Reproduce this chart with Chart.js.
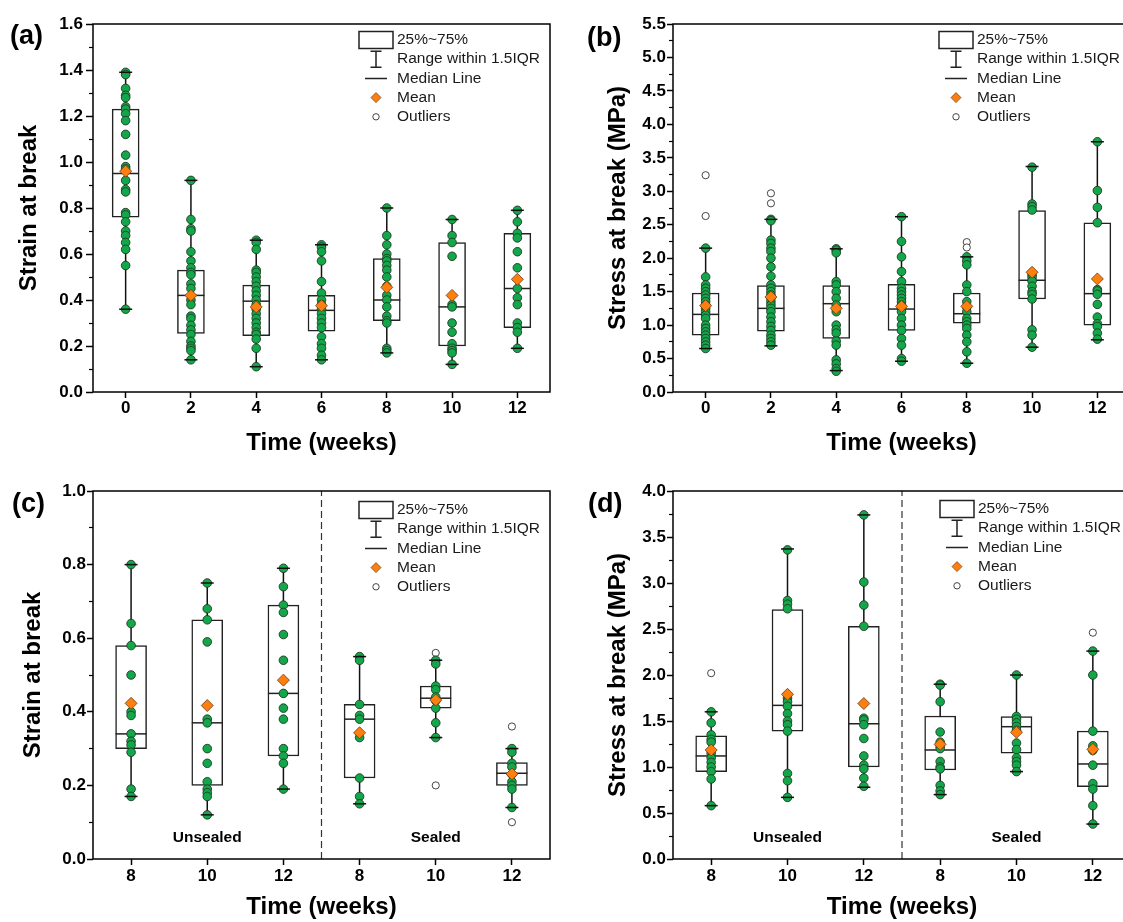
<!DOCTYPE html>
<html>
<head>
<meta charset="utf-8">
<script src="https://cdn.jsdelivr.net/npm/chart.js@4.4.1/dist/chart.umd.min.js"></script>
<style>
  body { margin: 0; width: 1123px; height: 922px; overflow: hidden; background: #fff; position: relative; }
  canvas { position: absolute; }
</style>
</head>
<body>
<canvas id="chartA" width="560" height="461" style="left:0;top:0"></canvas>
<canvas id="chartB" width="580" height="461" style="left:560px;top:0"></canvas>
<canvas id="chartC" width="560" height="461" style="left:0;top:461px"></canvas>
<canvas id="chartD" width="580" height="461" style="left:560px;top:461px"></canvas>
<script>
// ---- (a) strain at break, all weeks
const weeks = [0, 2, 4, 6, 8, 10, 12];
const strainLow = [0.36, 0.14, 0.11, 0.14, 0.17, 0.12, 0.19];
const strainQ1 = [0.76, 0.255, 0.245, 0.265, 0.31, 0.20, 0.28];
const strainMedian = [0.95, 0.42, 0.395, 0.355, 0.40, 0.37, 0.45];
const strainQ3 = [1.23, 0.53, 0.465, 0.42, 0.58, 0.65, 0.69];
const strainHigh = [1.39, 0.92, 0.66, 0.64, 0.80, 0.75, 0.79];
const strainMean = [0.96, 0.42, 0.37, 0.375, 0.455, 0.42, 0.49];
const strainPoints = [
  [1.39, 1.38, 1.32, 1.29, 1.28, 1.24, 1.23, 1.21, 1.18, 1.12, 1.03, 0.98, 0.97, 0.92, 0.88, 0.87, 0.78, 0.77, 0.74, 0.70, 0.68, 0.65, 0.62, 0.55, 0.36],
  [0.92, 0.75, 0.71, 0.70, 0.61, 0.57, 0.54, 0.52, 0.51, 0.47, 0.45, 0.40, 0.38, 0.33, 0.32, 0.29, 0.27, 0.25, 0.22, 0.20, 0.19, 0.18, 0.14],
  [0.66, 0.65, 0.62, 0.53, 0.52, 0.50, 0.48, 0.46, 0.44, 0.42, 0.40, 0.38, 0.36, 0.34, 0.32, 0.30, 0.28, 0.26, 0.25, 0.23, 0.19, 0.11],
  [0.64, 0.63, 0.61, 0.57, 0.48, 0.43, 0.40, 0.38, 0.36, 0.34, 0.32, 0.30, 0.28, 0.24, 0.21, 0.19, 0.16, 0.14],
  [0.80, 0.68, 0.64, 0.60, 0.58, 0.57, 0.55, 0.53, 0.50, 0.46, 0.42, 0.40, 0.37, 0.33, 0.31, 0.30, 0.19, 0.18, 0.17],
  [0.75, 0.68, 0.65, 0.59, 0.38, 0.37, 0.30, 0.26, 0.21, 0.19, 0.18, 0.17, 0.12],
  [0.79, 0.74, 0.69, 0.67, 0.61, 0.54, 0.45, 0.41, 0.38, 0.30, 0.28, 0.26, 0.19]
];
const strainOutliers = [[], [], [], [], [], [], []];
const strainTicks = [0, 0.2, 0.4, 0.6, 0.8, 1.0, 1.2, 1.4, 1.6];

// ---- (b) stress at break, all weeks
const stressLow = [0.65, 0.69, 0.32, 0.46, 0.43, 0.67, 0.78];
const stressQ1 = [0.85, 0.91, 0.80, 0.92, 1.03, 1.39, 1.00];
const stressMedian = [1.16, 1.25, 1.32, 1.24, 1.17, 1.67, 1.47];
const stressQ3 = [1.48, 1.59, 1.59, 1.61, 1.48, 2.71, 2.53];
const stressHigh = [2.15, 2.58, 2.14, 2.62, 2.02, 3.37, 3.74];
const stressMean = [1.29, 1.42, 1.25, 1.28, 1.28, 1.79, 1.69];
const stressPoints = [
  [2.15, 1.72, 1.60, 1.55, 1.50, 1.45, 1.40, 1.35, 1.30, 1.25, 1.20, 1.15, 1.10, 1.00, 0.95, 0.90, 0.85, 0.80, 0.75, 0.70, 0.65],
  [2.58, 2.56, 2.27, 2.22, 2.15, 2.10, 2.00, 1.87, 1.73, 1.60, 1.55, 1.50, 1.45, 1.40, 1.35, 1.30, 1.25, 1.20, 1.12, 1.05, 0.98, 0.92, 0.85, 0.80, 0.75, 0.70],
  [2.14, 2.12, 2.08, 1.65, 1.60, 1.50, 1.40, 1.30, 1.20, 1.00, 0.93, 0.88, 0.76, 0.70, 0.48, 0.42, 0.35, 0.31],
  [2.62, 2.25, 2.02, 1.80, 1.65, 1.55, 1.50, 1.45, 1.40, 1.35, 1.30, 1.25, 1.20, 1.10, 1.00, 0.92, 0.80, 0.70, 0.50, 0.46],
  [2.02, 1.96, 1.90, 1.60, 1.50, 1.35, 1.27, 1.20, 1.10, 1.05, 1.00, 0.95, 0.85, 0.75, 0.60, 0.43],
  [3.36, 2.81, 2.77, 2.72, 1.75, 1.71, 1.66, 1.58, 1.50, 1.46, 1.39, 0.93, 0.85, 0.67],
  [3.74, 3.01, 2.76, 2.53, 1.53, 1.51, 1.46, 1.31, 1.12, 1.02, 0.98, 0.88, 0.79]
];
const stressOutliers = [[3.24, 2.63], [2.97, 2.82], [], [], [2.24, 2.16], [], []];
const stressTicks = [0, 0.5, 1.0, 1.5, 2.0, 2.5, 3.0, 3.5, 4.0, 4.5, 5.0, 5.5];

// ---- (c), (d) unsealed vs sealed, weeks 8/10/12
const groupPos = [0, 1, 2, 3, 4, 5];
const groupWeeks = ['8', '10', '12', '8', '10', '12'];
const sealStrainLow = [0.17, 0.12, 0.19, 0.15, 0.33, 0.14];
const sealStrainQ1 = [0.30, 0.20, 0.28, 0.22, 0.41, 0.20];
const sealStrainMedian = [0.34, 0.37, 0.45, 0.38, 0.437, 0.233];
const sealStrainQ3 = [0.58, 0.65, 0.69, 0.42, 0.47, 0.262];
const sealStrainHigh = [0.80, 0.75, 0.79, 0.55, 0.54, 0.30];
const sealStrainMean = [0.423, 0.417, 0.486, 0.343, 0.432, 0.231];
const sealStrainPoints = [
  [0.80, 0.64, 0.58, 0.50, 0.40, 0.39, 0.34, 0.32, 0.31, 0.29, 0.19, 0.17],
  [0.75, 0.68, 0.65, 0.59, 0.38, 0.37, 0.30, 0.26, 0.21, 0.19, 0.18, 0.17, 0.12],
  [0.79, 0.74, 0.69, 0.67, 0.61, 0.54, 0.45, 0.41, 0.38, 0.30, 0.28, 0.26, 0.19],
  [0.55, 0.54, 0.42, 0.39, 0.38, 0.33, 0.22, 0.17, 0.15],
  [0.54, 0.53, 0.47, 0.46, 0.44, 0.43, 0.41, 0.37, 0.33],
  [0.30, 0.29, 0.26, 0.25, 0.23, 0.21, 0.20, 0.19, 0.14]
];
const sealStrainOutliers = [[], [], [], [], [0.56, 0.20], [0.36, 0.10]];
const sealStrainTicks = [0, 0.2, 0.4, 0.6, 0.8, 1.0];

const sealStressLow = [0.58, 0.67, 0.78, 0.70, 0.95, 0.38];
const sealStressQ1 = [0.95, 1.39, 1.00, 0.967, 1.15, 0.786];
const sealStressMedian = [1.12, 1.67, 1.47, 1.185, 1.438, 1.033];
const sealStressQ3 = [1.34, 2.71, 2.53, 1.554, 1.547, 1.391];
const sealStressHigh = [1.60, 3.37, 3.74, 1.90, 2.00, 2.26];
const sealStressMean = [1.185, 1.79, 1.69, 1.246, 1.377, 1.192];
const sealStressPoints = [
  [1.60, 1.48, 1.35, 1.30, 1.27, 1.15, 1.10, 1.05, 1.00, 0.95, 0.87, 0.58],
  [3.36, 2.81, 2.77, 2.72, 1.75, 1.71, 1.66, 1.58, 1.50, 1.46, 1.39, 0.93, 0.85, 0.67],
  [3.74, 3.01, 2.76, 2.53, 1.53, 1.51, 1.46, 1.31, 1.12, 1.02, 0.98, 0.88, 0.79],
  [1.90, 1.89, 1.71, 1.38, 1.27, 1.23, 1.20, 1.06, 1.00, 0.98, 0.80, 0.74, 0.70],
  [2.00, 1.55, 1.52, 1.48, 1.44, 1.40, 1.26, 1.19, 1.10, 1.06, 1.02, 0.95],
  [2.26, 2.00, 1.39, 1.23, 1.18, 1.02, 0.82, 0.76, 0.58, 0.38]
];
const sealStressOutliers = [[2.02], [], [], [], [], [2.46]];
const sealStressTicks = [0, 0.5, 1.0, 1.5, 2.0, 2.5, 3.0, 3.5, 4.0];

const legendLabels = ['25%~75%', 'Range within 1.5IQR', 'Median Line', 'Mean', 'Outliers'];

const FONT = "'Liberation Sans', Arial, Helvetica, sans-serif";
Chart.defaults.font.family = FONT;
Chart.defaults.color = '#000';

// minor ticks halfway between the major ones
function minorOf(ticks) {
  const out = [];
  for (let i = 0; i < ticks.length - 1; i++) out.push((ticks[i] + ticks[i + 1]) / 2);
  return out;
}

function boxDatasets(s) {
  const whisk = [];
  s.x.forEach((x, i) => { whisk.push({ x, y: s.low[i] }, { x, y: s.high[i] }, { x, y: null }); });
  const caps = [];
  s.x.forEach((x, i) => { caps.push({ x, y: s.low[i] }, { x, y: s.high[i] }); });
  const pts = s.points.flatMap((arr, i) => arr.map(v => ({ x: s.x[i], y: v })));
  const outl = s.outliers.flatMap((arr, i) => arr.map(v => ({ x: s.x[i], y: v })));
  const sets = [
    { type: 'line', data: whisk, borderColor: '#111', borderWidth: 1.5, pointRadius: 0, spanGaps: false, order: 7 },
    { type: 'bar', data: s.x.map((x, i) => ({ x, y: [s.q1[i], s.q3[i]] })), backgroundColor: '#fff',
      borderColor: '#222', borderWidth: 1.5, borderSkipped: false, barThickness: s.boxW, order: 6 },
    { data: s.x.map((x, i) => ({ x, y: s.median[i] })), pointStyle: 'line', pointRadius: s.boxW / 2,
      pointBorderColor: '#222', pointBorderWidth: 1.5, order: 5 },
    { data: pts, pointStyle: 'circle', pointRadius: 4.3, pointBackgroundColor: '#13a64b',
      pointBorderColor: '#1d3b22', pointBorderWidth: 0.9, order: 4 },
    { data: outl, pointStyle: 'circle', pointRadius: 3.6, pointBackgroundColor: '#fff',
      pointBorderColor: '#444', pointBorderWidth: 1, order: 4 },
    { data: caps, pointStyle: 'line', pointRadius: 6.5, pointBorderColor: '#111', pointBorderWidth: 1.5, order: 3 },
    { data: s.x.map((x, i) => ({ x, y: s.mean[i] })), pointStyle: 'rectRot', pointRadius: 6,
      pointBackgroundColor: '#ff7f0e', pointBorderColor: '#6b3a10', pointBorderWidth: 0.8, order: 1 }
  ];
  if (s.divider !== undefined) {
    sets.push({ type: 'line', data: [{ x: s.divider, y: s.yTicks[0] }, { x: s.divider, y: s.yTicks[s.yTicks.length - 1] }],
      borderColor: '#333', borderWidth: 1.2, borderDash: [7, 4], pointRadius: 0, order: 8 });
  }
  return sets;
}

const framePlugin = {
  id: 'frame',
  afterDraw(chart) {
    const { ctx, chartArea: a } = chart;
    ctx.save();
    ctx.strokeStyle = '#000';
    ctx.lineWidth = 1.5;
    ctx.strokeRect(a.left, a.top, a.right - a.left, a.bottom - a.top);
    ctx.restore();
  }
};

const annotPlugin = {
  id: 'annot',
  afterDraw(chart, args, o) {
    const { ctx, chartArea: a, scales } = chart;
    ctx.save();
    // panel letter
    ctx.fillStyle = '#000';
    ctx.font = 'bold 27px ' + FONT;
    ctx.textBaseline = 'alphabetic';
    ctx.textAlign = 'left';
    ctx.fillText(o.letter, o.letterX, o.letterY);

    // group labels
    ctx.font = 'bold 15.5px ' + FONT;
    ctx.textAlign = 'center';
    ctx.textBaseline = 'middle';
    (o.groups || []).forEach(g => ctx.fillText(g.text, scales.x.getPixelForValue(g.x), a.bottom - 21));

    // legend
    const sx = a.right - 174, tx = a.right - 153, y0 = a.top + o.legendTop, dy = 19.2;
    ctx.strokeStyle = '#222';
    ctx.lineWidth = 1.5;
    ctx.strokeRect(a.right - 191, y0 - 8.5, 34, 17);
    const y1 = y0 + dy;
    ctx.beginPath();
    ctx.moveTo(sx - 5.5, y1 - 8); ctx.lineTo(sx + 5.5, y1 - 8);
    ctx.moveTo(sx, y1 - 8); ctx.lineTo(sx, y1 + 8);
    ctx.moveTo(sx - 5.5, y1 + 8); ctx.lineTo(sx + 5.5, y1 + 8);
    const y2 = y0 + 2 * dy;
    ctx.moveTo(sx - 11, y2); ctx.lineTo(sx + 11, y2);
    ctx.stroke();
    const y3 = y0 + 3 * dy;
    ctx.beginPath();
    ctx.moveTo(sx, y3 - 5); ctx.lineTo(sx + 5, y3); ctx.lineTo(sx, y3 + 5); ctx.lineTo(sx - 5, y3); ctx.closePath();
    ctx.fillStyle = '#ff7f0e';
    ctx.fill();
    ctx.lineWidth = 0.7;
    ctx.strokeStyle = '#6b3a10';
    ctx.stroke();
    const y4 = y0 + 4 * dy;
    ctx.beginPath();
    ctx.arc(sx, y4, 3.2, 0, Math.PI * 2);
    ctx.fillStyle = '#fff';
    ctx.fill();
    ctx.lineWidth = 1;
    ctx.strokeStyle = '#444';
    ctx.stroke();

    ctx.fillStyle = '#1a1a1a';
    ctx.font = '15.5px ' + FONT;
    ctx.textAlign = 'left';
    ctx.textBaseline = 'middle';
    legendLabels.forEach((t, i) => ctx.fillText(t, tx, y0 + i * dy));
    ctx.restore();
  }
};

function makePanel(id, s) {
  const yMin = s.yTicks[0], yMax = s.yTicks[s.yTicks.length - 1];
  const minor = minorOf(s.yTicks);
  new Chart(document.getElementById(id), {
    type: 'scatter',
    data: { datasets: boxDatasets(s) },
    options: {
      responsive: false,
      animation: false,
      events: [],
      layout: { autoPadding: false, padding: { left: 0, top: s.padTop, right: s.padRight, bottom: 0 } },
      plugins: {
        legend: { display: false },
        tooltip: { enabled: false },
        annot: { letter: s.letter, letterX: s.letterX, letterY: s.letterY, legendTop: s.legendTop, groups: s.groups }
      },
      scales: {
        x: {
          type: 'linear', min: s.xMin, max: s.xMax, offset: false,
          afterBuildTicks: sc => { sc.ticks = s.x.map(v => ({ value: v })); },
          afterFit: sc => { sc.height = s.xH; sc.paddingLeft = 0; sc.paddingRight = 0; },
          grid: { display: true, offset: false, drawOnChartArea: false, tickLength: 6, tickWidth: 1.5, tickColor: '#000' },
          border: { display: false },
          ticks: { padding: s.xPad, color: '#000', font: { size: 17, weight: 'bold' }, maxRotation: 0, autoSkip: false,
            callback: (v, i) => s.xLabels[i] },
          title: { display: true, text: 'Time (weeks)', color: '#000', font: { size: 24, weight: 'bold' },
            padding: { top: 0, bottom: s.xTitlePad } }
        },
        y: {
          type: 'linear', position: 'left', weight: 0, min: yMin, max: yMax,
          afterBuildTicks: sc => { sc.ticks = s.yTicks.map(v => ({ value: v })); },
          afterFit: sc => { sc.width = s.yW; },
          grid: { display: true, drawOnChartArea: false, tickLength: s.yTick, tickWidth: 1.5, tickColor: '#000' },
          border: { display: false },
          ticks: { padding: s.yPad, color: '#000', font: { size: 17, weight: 'bold' }, autoSkip: false,
            callback: v => v.toFixed(1) },
          title: { display: true, text: s.yTitle, color: '#000', font: { size: 24, weight: 'bold' },
            padding: { top: s.yTitlePad, bottom: 0 } }
        },
        yMinor: {
          type: 'linear', position: 'left', weight: -1, min: yMin, max: yMax,
          afterBuildTicks: sc => { sc.ticks = minor.map(v => ({ value: v })); },
          afterFit: sc => { sc.width = 0; },
          grid: { display: true, drawOnChartArea: false, tickLength: 4, tickWidth: 1.2, tickColor: '#000' },
          border: { display: false },
          ticks: { display: false }
        }
      }
    },
    plugins: [framePlugin, annotPlugin]
  });
}

makePanel('chartA', {
  x: weeks, xLabels: weeks.map(String), xMin: -1, xMax: 13, boxW: 27,
  low: strainLow, q1: strainQ1, median: strainMedian, q3: strainQ3, high: strainHigh, mean: strainMean,
  points: strainPoints, outliers: strainOutliers, yTicks: strainTicks, yTitle: 'Strain at break',
  padTop: 24, padRight: 10, yW: 93, xH: 69, xPad: 0.3, xTitlePad: 3.6, yTick: 7, yPad: 3, yTitlePad: 14.6,
  letter: '(a)', letterX: 10, letterY: 44, legendTop: 16
});
makePanel('chartB', {
  x: weeks, xLabels: weeks.map(String), xMin: -1, xMax: 13, boxW: 27,
  low: stressLow, q1: stressQ1, median: stressMedian, q3: stressQ3, high: stressHigh, mean: stressMean,
  points: stressPoints, outliers: stressOutliers, yTicks: stressTicks, yTitle: 'Stress at break (MPa)',
  padTop: 24, padRight: 10, yW: 113, xH: 69, xPad: 0.3, xTitlePad: 3.6, yTick: 6, yPad: 1, yTitlePad: 44,
  letter: '(b)', letterX: 27, letterY: 46, legendTop: 16
});
makePanel('chartC', {
  x: groupPos, xLabels: groupWeeks, xMin: -0.5, xMax: 5.5, boxW: 31, divider: 2.5,
  low: sealStrainLow, q1: sealStrainQ1, median: sealStrainMedian, q3: sealStrainQ3, high: sealStrainHigh, mean: sealStrainMean,
  points: sealStrainPoints, outliers: sealStrainOutliers, yTicks: sealStrainTicks, yTitle: 'Strain at break',
  padTop: 30, padRight: 10, yW: 93, xH: 63, xPad: 0.8, xTitlePad: 0, yTick: 6, yPad: 1, yTitlePad: 18.6,
  letter: '(c)', letterX: 12, letterY: 51, legendTop: 19,
  groups: [{ x: 1, text: 'Unsealed' }, { x: 4, text: 'Sealed' }]
});
makePanel('chartD', {
  x: groupPos, xLabels: groupWeeks, xMin: -0.5, xMax: 5.5, boxW: 31, divider: 2.5,
  low: sealStressLow, q1: sealStressQ1, median: sealStressMedian, q3: sealStressQ3, high: sealStressHigh, mean: sealStressMean,
  points: sealStressPoints, outliers: sealStressOutliers, yTicks: sealStressTicks, yTitle: 'Stress at break (MPa)',
  padTop: 30, padRight: 9, yW: 113, xH: 63, xPad: 0.8, xTitlePad: 0, yTick: 6, yPad: 1, yTitlePad: 43.6,
  letter: '(d)', letterX: 28, letterY: 51, legendTop: 18,
  groups: [{ x: 1, text: 'Unsealed' }, { x: 4, text: 'Sealed' }]
});
</script>
</body>
</html>
